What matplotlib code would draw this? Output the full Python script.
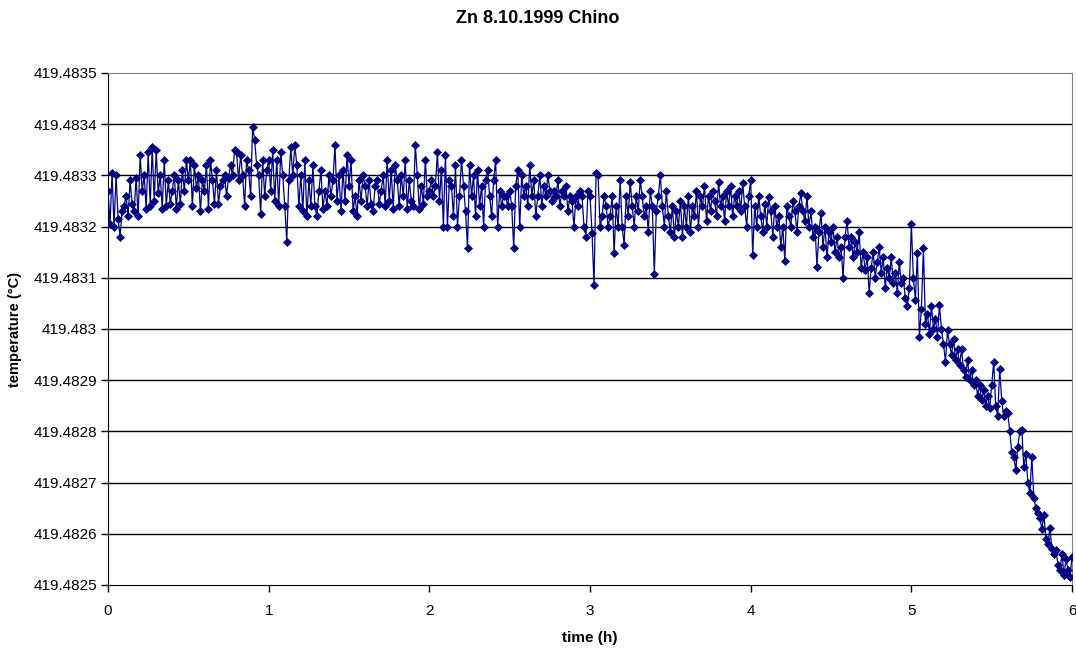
import numpy as np
import matplotlib
matplotlib.use("Agg")
import matplotlib.pyplot as plt

plt.rcParams['font.family'] = ['Liberation Sans', 'DejaVu Sans']

# readings every 0.0125 h, deviation from 419.4825 degC in micro-kelvin
base_temp = 419.4825
time_step = 0.0125
dev_uK = [
    # hour 0
    770, 705, 805, 700, 800, 715, 680, 730,
    740, 760, 720, 790, 745, 730, 795, 720,
    840, 770, 800, 735, 845, 740, 855, 750,
    850, 765, 800, 735, 830, 740, 790, 745,
    770, 800, 735, 790, 745, 810, 770, 830,
    790, 830, 740, 820, 775, 800, 730, 790,
    770, 820, 735, 830, 790, 745, 810, 745,
    780, 790, 800, 760, 795, 820, 800, 850,
    845, 790, 840, 800, 740, 830, 810, 760,
    895, 870, 820, 800, 725, 830, 760, 810,
    # hour 1
    830, 770, 850, 750, 830, 740, 845, 800,
    740, 670, 790, 855, 800, 860, 820, 740,
    800, 730, 830, 720, 790, 740, 820, 740,
    720, 770, 810, 735, 770, 740, 800, 760,
    790, 860, 750, 800, 730, 810, 750, 840,
    780, 830, 730, 760, 720, 790, 750, 800,
    780, 740, 790, 745, 730, 780, 790, 745,
    770, 800, 740, 830, 750, 810, 735, 820,
    790, 740, 800, 760, 830, 735, 790, 750,
    740, 860, 800, 735, 780, 745, 830, 760,
    # hour 2
    770, 790, 760, 780, 845, 750, 810, 700,
    840, 700, 790, 780, 720, 820, 700, 760,
    830, 780, 730, 658, 820, 760, 800, 720,
    810, 740, 780, 700, 790, 810, 760, 720,
    790, 830, 700, 770, 740, 760, 760, 740,
    770, 740, 658, 780, 810, 700, 800, 760,
    780, 740, 820, 760, 790, 720, 760, 800,
    740, 780, 760, 800, 770, 750, 770, 760,
    790, 740, 770, 760, 780, 730, 760, 750,
    700, 760, 740, 770, 760, 700, 680, 770,
    # hour 3
    760, 687, 586, 805, 800, 700, 720, 760,
    740, 700, 720, 760, 648, 740, 700, 790,
    700, 664, 760, 720, 788, 740, 700, 760,
    730, 790, 760, 720, 740, 690, 770, 740,
    607, 730, 760, 800, 740, 700, 770, 720,
    690, 740, 680, 730, 700, 750, 680, 740,
    700, 760, 690, 740, 720, 770, 700, 760,
    740, 780, 710, 760, 730, 770, 750, 720,
    788, 740, 760, 710, 770, 740, 780, 720,
    760, 740, 770, 730, 785, 740, 700, 760,
    # hour 4
    790, 644, 740, 700, 760, 720, 690, 745,
    700, 758, 730, 680, 740, 700, 720, 660,
    700, 633, 740, 720, 700, 750, 730, 690,
    740, 765, 730, 710, 760, 700, 730, 680,
    700, 622, 690, 726, 660, 700, 640, 690,
    670, 700, 650, 680, 640, 660, 600, 680,
    711, 660, 680, 640, 670, 650, 690, 620,
    650, 615, 640, 571, 620, 650, 600, 630,
    660, 610, 640, 580, 620, 600, 640, 590,
    610, 570, 630, 590, 600, 560, 545, 580,
    # hour 5
    705, 600, 557, 648, 485, 540, 658, 510,
    530, 490, 545, 500, 520, 485, 547, 500,
    470, 436, 498, 470, 450, 480, 440, 460,
    430, 460, 420, 406, 440, 400, 420, 390,
    400, 370, 390, 361, 380, 350, 370, 345,
    390, 436, 350, 330, 422, 360, 330, 340,
    336, 300, 260, 250, 225, 270, 300, 303,
    230, 256, 200, 180, 250, 170, 150, 140,
    130, 110, 137, 90, 80, 111, 70, 60,
    68, 40, 30, 60, 20, 50, 30, 16, 55,
]

y_ticks = [419.4825, 419.4826, 419.4827, 419.4828, 419.4829, 419.4830,
           419.4831, 419.4832, 419.4833, 419.4834, 419.4835]
y_labels = ['419.4825', '419.4826', '419.4827', '419.4828', '419.4829', '419.483',
            '419.4831', '419.4832', '419.4833', '419.4834', '419.4835']
x_ticks = [0, 1, 2, 3, 4, 5, 6]

t = np.arange(len(dev_uK)) * time_step
temp = base_temp + np.array(dev_uK) * 1e-6

fig = plt.figure(figsize=(10.76, 6.51), dpi=100)
ax = fig.add_axes([0.1004, 0.1014, 0.8959, 0.7865])

for yv in y_ticks[1:-1]:
    ax.axhline(yv, color='black', linewidth=1, zorder=1)

ax.plot(t, temp, color='#000080', linewidth=0.9, marker='D', markersize=4.5,
        markeredgewidth=0.5, zorder=3)

ax.set_xlim(0, 6)
ax.set_ylim(419.4825, 419.4835)
ax.set_xticks(x_ticks)
ax.set_yticks(y_ticks)
ax.set_yticklabels(y_labels)
ax.tick_params(axis='both', direction='out', length=5, width=1, labelsize=11)
ax.tick_params(axis='y', pad=3)
ax.tick_params(axis='x', pad=9)

for side in ['top', 'right']:
    ax.spines[side].set_color('#808080')
for side in ['left', 'bottom']:
    ax.spines[side].set_color('black')

ax.set_xlabel('time (h)', fontsize=11, fontweight='bold', labelpad=9)
ax.set_ylabel('temperature (°C)', fontsize=10.5, fontweight='bold', labelpad=8)
fig.suptitle('Zn 8.10.1999 Chino', fontsize=13, fontweight='bold', y=0.985)

fig.savefig('out.png', dpi=100)
